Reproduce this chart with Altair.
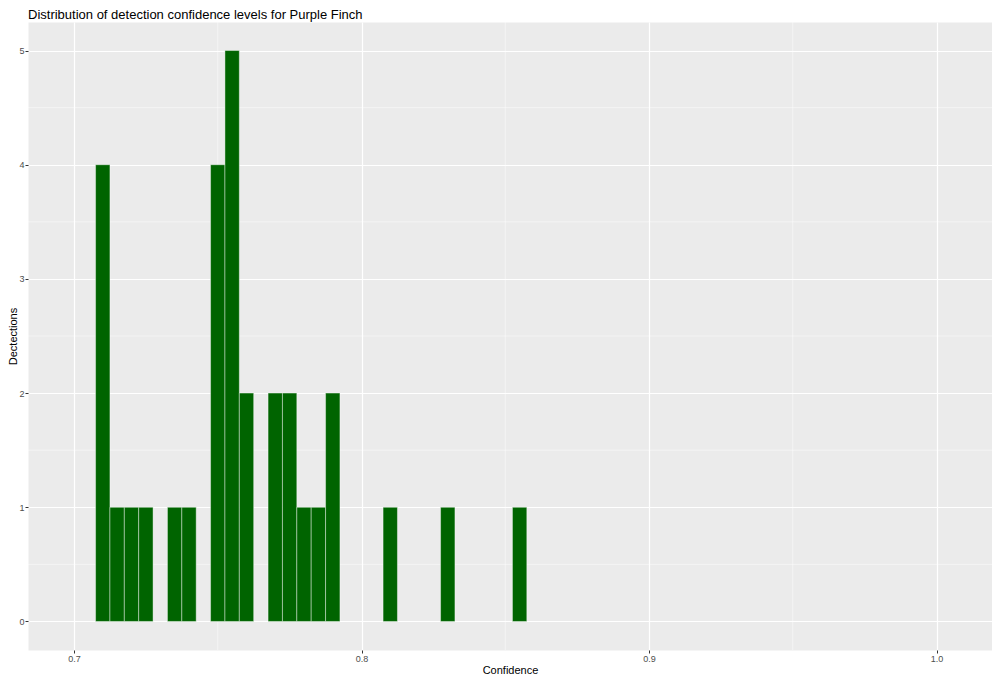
import altair as alt
import pandas as pd

# Histogram bins (centres, binwidth 0.005) and counts
bin_centers = [0.71, 0.715, 0.72, 0.725, 0.735, 0.74, 0.75, 0.755, 0.76,
               0.77, 0.775, 0.78, 0.785, 0.79, 0.81, 0.83, 0.855]
counts = [4, 1, 1, 1, 1, 1, 4, 5, 2, 2, 2, 1, 1, 2, 1, 1, 1]
bin_width = 0.005

x_ticks = [0.7, 0.8, 0.9, 1.0]
y_ticks = [0, 1, 2, 3, 4, 5]
x_minor = [0.75, 0.85, 0.95]
y_minor = [0.5, 1.5, 2.5, 3.5, 4.5]

df = pd.DataFrame({"center": bin_centers, "count": counts})

xscale = alt.Scale(domain=[0.684, 1.0193], nice=False, zero=False)
yscale = alt.Scale(domain=[-0.25, 5.25], nice=False, zero=False)

x_axis = alt.Axis(values=x_ticks, format=".1f", title="Confidence",
                  labelPadding=1, titlePadding=1)
y_axis = alt.Axis(values=y_ticks, format="d", title="Dectections",
                  labelPadding=1, titlePadding=0)

minor_x = alt.Chart(pd.DataFrame({"v": x_minor})).mark_rule(
    color="white", strokeWidth=0.6, opacity=0.8
).encode(x=alt.X("v:Q", scale=xscale, axis=x_axis))

minor_y = alt.Chart(pd.DataFrame({"v": y_minor})).mark_rule(
    color="white", strokeWidth=0.6, opacity=0.8
).encode(y=alt.Y("v:Q", scale=yscale, axis=y_axis))

half = bin_width / 2
bars = alt.Chart(df).transform_calculate(
    x0=f"datum.center - {half}",
    x1=f"datum.center + {half}",
).mark_rect(color="#006400", stroke="white", strokeWidth=0.6, strokeOpacity=0.7).encode(
    x=alt.X("x0:Q", scale=xscale, axis=x_axis),
    x2="x1:Q",
    y=alt.Y("count:Q", scale=yscale, axis=y_axis),
    y2=alt.datum(0),
)

chart = alt.layer(minor_x, minor_y, bars).properties(
    width=964,
    height=628,
    autosize=alt.AutoSizeParams(type="none"),
    padding={"left": 20, "top": 14, "right": 0, "bottom": 27},
    title=alt.TitleParams(
        "Distribution of detection confidence levels for Purple Finch",
        anchor="start", frame="group", fontSize=13, font="Liberation Sans",
        fontWeight="normal", color="black", offset=0,
    ),
).configure_view(
    fill="#EBEBEB", strokeOpacity=0
).configure_axis(
    grid=True, gridColor="white", gridWidth=1.2, domain=False,
    tickColor="#333333", tickSize=3, tickWidth=1,
    labelColor="#4D4D4D", labelFont="Liberation Sans", labelFontSize=9,
    titleFont="Liberation Sans", titleFontSize=11, titleFontWeight="normal",
    titleColor="black",
)

chart.save("out.html", embed_options={"renderer": "svg", "actions": False})
